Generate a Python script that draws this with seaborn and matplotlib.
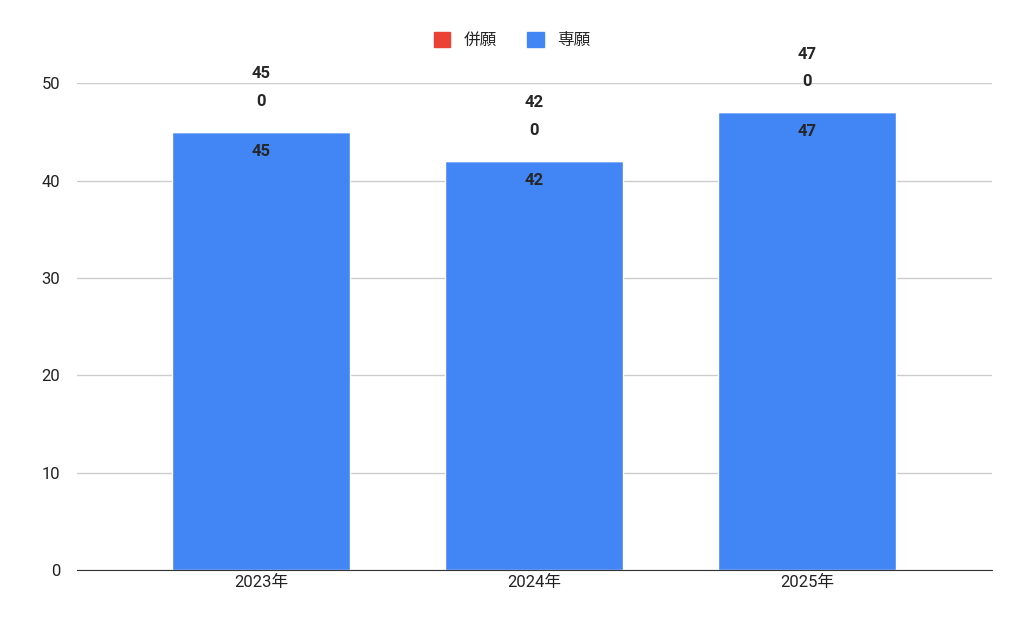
import pandas as pd
import matplotlib
matplotlib.use('Agg')
import matplotlib.pyplot as plt
import seaborn as sns
from matplotlib.patches import Patch

years = ['2023年', '2024年', '2025年']
heigan = [0, 0, 0]      # 併願
sengan = [45, 42, 47]   # 専願

sns.set_style("white")
plt.rcParams['font.family'] = ['Roboto', 'Noto Sans CJK JP', 'DejaVu Sans']

fig = plt.figure(figsize=(10.24, 6.33), dpi=100)
ax = fig.add_axes([0.075, 0.0995, 0.894, 0.769])

df = pd.DataFrame({'year': years, 'sengan': sengan, 'heigan': heigan})
totals = [s + h for s, h in zip(sengan, heigan)]

sns.barplot(data=df, x='year', y='sengan', color='#4285F4', saturation=1, width=0.65, ax=ax)
ax.bar(range(len(years)), heigan, bottom=sengan, width=0.65, color='#EA4335')

for i, (s, h, t) in enumerate(zip(sengan, heigan, totals)):
    ax.annotate(str(s), (i, s), xytext=(0, -14), textcoords='offset points',
                ha='center', va='center', fontsize=12, fontweight='bold')
    ax.annotate(str(h), (i, s + h), xytext=(0, 22), textcoords='offset points',
                ha='center', va='center', fontsize=12, fontweight='bold', annotation_clip=False)
    ax.annotate(str(t), (i, t), xytext=(0, 42), textcoords='offset points',
                ha='center', va='center', fontsize=12, fontweight='bold', annotation_clip=False)

ax.set_ylim(0, 50)
ax.set_xlim(-0.674, 2.678)
ax.set_yticks(range(0, 51, 10))
ax.yaxis.grid(True, color='#cccccc', linewidth=1)
ax.set_axisbelow(True)
for sp in ['top', 'right', 'left']:
    ax.spines[sp].set_visible(False)
ax.spines['bottom'].set_color('#333333')
ax.tick_params(axis='both', length=0, labelsize=12, colors='#222222')
ax.tick_params(axis='y', pad=12)
ax.set_xlabel('')
ax.set_ylabel('')

handles = [Patch(color='#EA4335', label='併願'), Patch(color='#4285F4', label='専願')]
fig.legend(handles=handles, loc='center', bbox_to_anchor=(0.5, 0.937), ncol=2, frameon=False,
           fontsize=12, handlelength=1.0, handleheight=1.0, columnspacing=1.8)

fig.savefig('out.png', dpi=100)
